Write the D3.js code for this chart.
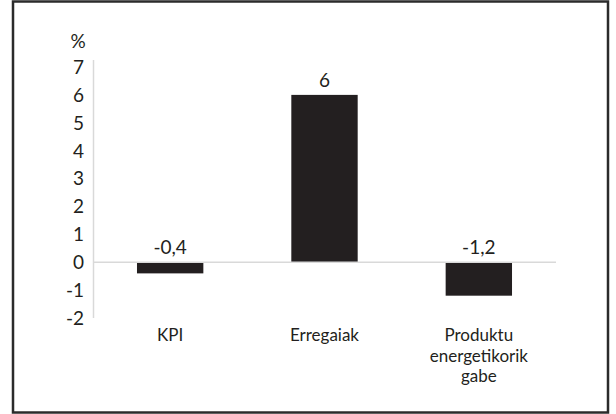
<html>
<head>
<style>
	body { margin:0; background:#fff; }
	text { font-family: Lato, "Open Sans", sans-serif; fill:#231f20; }
</style>
</head>
<body>
	<script src="https://d3js.org/d3.v7.min.js"></script>
	<svg width="616" height="414"></svg>

	<script>
	// chart data
	var categories = ["KPI", "Erregaiak", "Produktu energetikorik gabe"];
	var catLines = [["KPI"], ["Erregaiak"], ["Produktu", "energetikorik", "gabe"]];
	var values = [-0.4, 6, -1.2];
	var valueLabels = ["-0,4", "6", "-1,2"];
	var yTicks = [-2, -1, 0, 1, 2, 3, 4, 5, 6, 7];
	var unitLabel = "%";

	var svg = d3.select("svg");

	// outer frame
	svg.append("rect")
		.attr("x", 13).attr("y", 1.5)
		.attr("width", 595).attr("height", 411)
		.attr("fill", "none")
		.attr("stroke", "#2b2b2b")
		.attr("stroke-width", 2.5);

	var x = d3.scaleBand().domain(categories).range([93, 556]).paddingInner(0.57).paddingOuter(0.285),
	    y = d3.scaleLinear().domain([-2, 7]).range([318, 67]);

	// vertical axis line
	svg.append("line")
		.attr("x1", 93.5).attr("x2", 93.5)
		.attr("y1", y(7) - 7).attr("y2", y(-2))
		.attr("stroke", "#d9d9d9").attr("stroke-width", 1.5);

	// tick labels
	svg.selectAll(".ytick")
		.data(yTicks)
		.enter().append("text")
		.attr("class", "ytick")
		.attr("x", 84)
		.attr("y", function(d) { return y(d); })
		.attr("dy", "0.36em")
		.attr("text-anchor", "end")
		.style("font-size", "19px")
		.text(function(d) { return d; });

	svg.append("text")
		.attr("x", 78).attr("y", 48)
		.attr("text-anchor", "middle")
		.style("font-size", "19px")
		.text(unitLabel);

	// bars
	svg.selectAll(".bar")
		.data(values)
		.enter().append("rect")
		.attr("class", "bar")
		.attr("x", function(d, i) { return x(categories[i]); })
		.attr("width", x.bandwidth())
		.attr("y", function(d) { return y(Math.max(d, 0)); })
		.attr("height", function(d) { return Math.abs(y(d) - y(0)); })
		.attr("fill", "#231f20");

	// zero line
	svg.append("line")
		.attr("x1", 93).attr("x2", 556)
		.attr("y1", y(0)).attr("y2", y(0))
		.attr("stroke", "#d9d9d9").attr("stroke-width", 1.5);

	// value labels
	svg.selectAll(".vlab")
		.data(values)
		.enter().append("text")
		.attr("class", "vlab")
		.attr("x", function(d, i) { return x(categories[i]) + x.bandwidth() / 2; })
		.attr("y", function(d) { return y(Math.max(d, 0)) - 8; })
		.attr("text-anchor", "middle")
		.style("font-size", "19px")
		.text(function(d, i) { return valueLabels[i]; });

	// category labels
	var cat = svg.selectAll(".cat")
		.data(categories)
		.enter().append("text")
		.attr("class", "cat")
		.attr("text-anchor", "middle")
		.style("font-size", "17px");

	cat.selectAll("tspan")
		.data(function(d, i) { return catLines[i].map(function(t) { return {t: t, c: d}; }); })
		.enter().append("tspan")
		.attr("x", function(d) { return x(d.c) + x.bandwidth() / 2; })
		.attr("y", function(d, j) { return 341 + j * 20.5; })
		.text(function(d) { return d.t; });
	</script>
</body>
</html>
